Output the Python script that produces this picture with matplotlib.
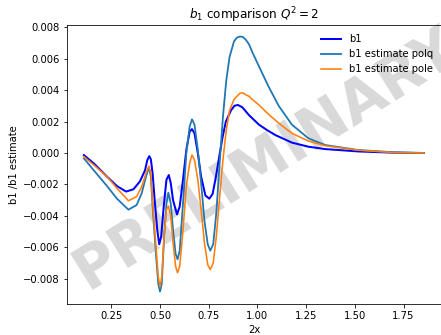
import matplotlib.pyplot as plt

# Data
x_b1 = [0.109, 0.160, 0.228, 0.279, 0.326, 0.364, 0.397, 0.423, 0.435, 0.445,
        0.453, 0.462, 0.474, 0.486, 0.496, 0.506, 0.519, 0.533, 0.545, 0.555,
        0.567, 0.587, 0.601, 0.618, 0.635, 0.652, 0.664, 0.677, 0.694, 0.711,
        0.733, 0.753, 0.770, 0.787, 0.804, 0.821, 0.838, 0.864, 0.882, 0.900,
        0.923, 0.957, 1.008, 1.050, 1.092, 1.177, 1.262, 1.347, 1.517, 1.700,
        1.855]
b1 = [-0.00013, -0.00066, -0.0015, -0.0021, -0.00245, -0.0023, -0.0018, -0.0011, -0.00044, -0.0002,
      -0.0004, -0.0013, -0.0032, -0.0049, -0.0058, -0.0053, -0.0034, -0.0017, -0.0014, -0.0019,
      -0.0030, -0.0039, -0.0034, -0.0017, 0.0002, 0.00135, 0.00152, 0.00125, 0.0, -0.0015,
      -0.0027, -0.0029, -0.0026, -0.0015, -0.00023, 0.0010, 0.0020, 0.0027, 0.0030, 0.00305,
      0.0029, 0.0024, 0.0018, 0.00145, 0.00114, 0.00066, 0.0004, 0.00025, 0.0001, 0.00002,
      0.0]

x_est = [0.109, 0.160, 0.228, 0.279, 0.338, 0.380, 0.406, 0.428, 0.443, 0.453,
         0.462, 0.479, 0.491, 0.500, 0.509, 0.521, 0.533, 0.543, 0.555, 0.567,
         0.580, 0.590, 0.601, 0.618, 0.635, 0.652, 0.664, 0.677, 0.694, 0.711,
         0.728, 0.745, 0.758, 0.773, 0.789, 0.806, 0.823, 0.840, 0.857, 0.880,
         0.895, 0.911, 0.925, 0.940, 0.957, 0.974, 1.008, 1.058, 1.109, 1.177,
         1.262, 1.347, 1.517, 1.700, 1.855]
polq = [-0.00034, -0.0011, -0.0021, -0.0029, -0.0036, -0.0033, -0.00256, -0.0015, -0.00091, -0.0015,
        -0.0034, -0.0064, -0.0083, -0.0088, -0.0083, -0.0053, -0.0032, -0.00252, -0.0032, -0.0049,
        -0.0064, -0.00675, -0.0062, -0.0032, 0.0, 0.00167, 0.00214, 0.0018, 0.0002, -0.0019,
        -0.0043, -0.0058, -0.0062, -0.0058, -0.0038, -0.00066, 0.0023, 0.0046, 0.0061, 0.0071,
        0.00733, 0.0074, 0.00737, 0.0072, 0.0069, 0.0064, 0.0055, 0.0042, 0.0030, 0.0018,
        0.00093, 0.00051, 0.00019, 0.00005, 0.0]
pole = [-0.00023, -0.00076, -0.0015, -0.00224, -0.00303, -0.00277, -0.00214, -0.00129, -0.00083, -0.00129,
        -0.0032, -0.0059, -0.0079, -0.0085, -0.0079, -0.0053, -0.0036, -0.00337, -0.0040, -0.0057,
        -0.0072, -0.0076, -0.0072, -0.0049, -0.0021, -0.00066, -0.00013, -0.00044, -0.0017, -0.0036,
        -0.0057, -0.0071, -0.0074, -0.0070, -0.0053, -0.0028, -0.00044, 0.00146, 0.0027, 0.0034,
        0.0036, 0.0038, 0.00382, 0.0037, 0.0036, 0.0034, 0.00305, 0.00245, 0.0019, 0.00125,
        0.00076, 0.00046, 0.00018, 0.00003, 0.0]

fig = plt.figure(figsize=(441 / 72, 335 / 72), dpi=72)
ax = fig.add_axes([67 / 441, 31 / 335, 375 / 441, 279 / 335])

ax.plot(x_b1, b1, color='blue', lw=2, label='b1')
ax.plot(x_est, polq, color='#1f77b4', lw=1.8, label='b1 estimate polq')
ax.plot(x_est, pole, color='#ff7f0e', lw=1.6, label='b1 estimate pole')

ax.set_xlim(0.0225, 1.9475)
ax.set_ylim(-0.00959, 0.00813)
ax.set_xticks([0.25, 0.5, 0.75, 1.0, 1.25, 1.5, 1.75])
ax.set_title('$b_1$ comparison $Q^2 = 2$')
ax.set_xlabel('2x')
ax.set_ylabel('b1 /b1 estimate')
ax.legend(loc='upper right', frameon=False)

# watermark
ax.text(0.53, 0.52, 'PRELIMINARY', transform=ax.transAxes, fontsize=58,
        fontweight='bold', color='gray', alpha=0.3, rotation=32,
        ha='center', va='center', zorder=0, clip_on=False)

fig.savefig('out.png', dpi=72)
